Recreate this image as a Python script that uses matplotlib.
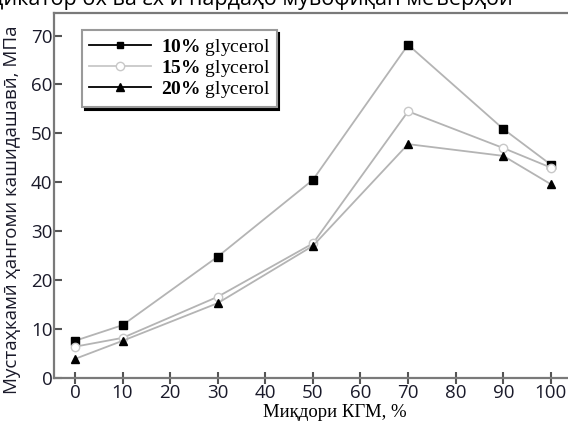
import matplotlib
matplotlib.use("Agg")
import matplotlib.pyplot as plt
from matplotlib.lines import Line2D

# data
kgm = [0, 10, 30, 50, 70, 90, 100]
g10 = [7.6, 10.8, 24.8, 40.5, 68.1, 50.9, 43.6]
g15 = [6.4, 8.2, 16.6, 27.5, 54.5, 47.0, 43.0]
g20 = [3.9, 7.6, 15.3, 27.0, 47.8, 45.4, 39.6]
labels = ["10%", "15%", "20%"]
xticks = list(range(0, 101, 10))
yticks = list(range(0, 71, 10))

plt.rcParams["mathtext.fontset"] = "custom"
plt.rcParams["mathtext.rm"] = "Liberation Serif"
plt.rcParams["mathtext.bf"] = "Liberation Serif:bold"

fig = plt.figure(figsize=(5.68, 4.21), dpi=100)
ax = fig.add_axes([54 / 568, 43 / 421, 514 / 568, 365 / 421])

line_c = "#b4b4b4"
ax.plot(kgm, g10, color=line_c, lw=1.3, marker="s", ms=5.5, mfc="black", mec="black")
ax.plot(kgm, g15, color=line_c, lw=1.3, marker="o", ms=6, mfc="white", mec="#c8c8c8")
ax.plot(kgm, g20, color=line_c, lw=1.3, marker="^", ms=6, mfc="black", mec="black")

ax.set_xlim(-4.4, 103.6)
ax.set_ylim(0, 74.6)
ax.set_xticks(xticks)
ax.set_yticks(yticks)

for side in ["top", "left", "bottom"]:
    ax.spines[side].set_color("#7a7a7a")
    ax.spines[side].set_linewidth(1.6)
ax.spines["right"].set_visible(False)

ax.tick_params(axis="y", direction="in", length=6, width=1.5, color="#555555",
               labelsize=13.5, labelcolor="#1a1a2a", pad=1)
ax.tick_params(axis="x", direction="inout", length=8, width=1.5, color="#555555",
               labelsize=13.5, labelcolor="#1a1a2a", pad=0)
for t in ax.get_xticklabels() + ax.get_yticklabels():
    t.set_family("Open Sans")

ax.set_ylabel("Мустаҳкамӣ ҳангоми кашидашавӣ, МПа", family="Open Sans",
              fontsize=13.5, color="#1a1a2a")
ax.yaxis.set_label_coords(-0.064, 0.46)
ax.set_xlabel("Миқдори КГМ, %", family="Liberation Serif", fontsize=13.5)
ax.xaxis.set_label_coords(0.547, -0.07)

handles = [
    Line2D([], [], color="black", lw=1.3, marker="s", ms=5, mfc="black", mec="black"),
    Line2D([], [], color="#c8c8c8", lw=1.3, marker="o", ms=6, mfc="white", mec="#c8c8c8"),
    Line2D([], [], color="black", lw=1.3, marker="^", ms=6, mfc="black", mec="black"),
]
leg_labels = [r"$\mathbf{" + s.replace("%", r"\%") + "}$ glycerol" for s in labels]
leg = ax.legend(handles, leg_labels, loc="upper left", bbox_to_anchor=(0.054, 0.953),
                borderaxespad=0,
                prop={"family": "Liberation Serif", "size": 14}, frameon=True,
                fancybox=False, shadow={"color": "black", "alpha": 1.0},
                edgecolor="#9a9a9a", framealpha=1, handlelength=3.2,
                handletextpad=0.5, labelspacing=0.0, borderpad=0.35)
leg.get_frame().set_linewidth(1.5)

fig.text(-0.068, 1 - 5 / 421, "Индикатор σх ва εх и пардаҳо мувофиқан меъёрҳои",
         family="Open Sans", fontsize=15.5, va="baseline", ha="left")

fig.savefig("out.png", dpi=100)
